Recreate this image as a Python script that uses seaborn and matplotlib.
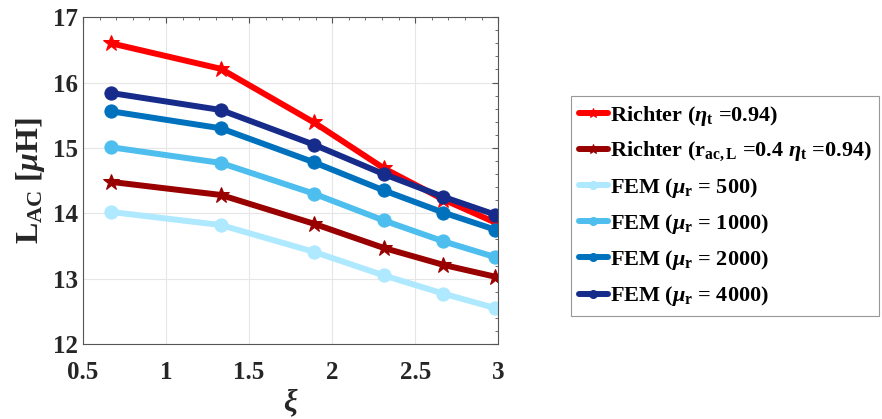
import matplotlib
matplotlib.use('Agg')
import matplotlib.pyplot as plt
import seaborn as sns
import pandas as pd
from matplotlib.ticker import AutoMinorLocator

# data
xi = [0.67, 1.33, 1.89, 2.31, 2.67, 2.98]
richter = [16.60, 16.21, 15.39, 14.69, 14.21, 13.86]
richter_rac = [14.48, 14.28, 13.84, 13.47, 13.21, 13.03]
fem_500 = [14.02, 13.82, 13.41, 13.05, 12.77, 12.55]
fem_1000 = [15.01, 14.77, 14.30, 13.89, 13.57, 13.33]
fem_2000 = [15.56, 15.30, 14.78, 14.35, 14.01, 13.75]
fem_4000 = [15.84, 15.58, 15.05, 14.60, 14.25, 13.98]

labels = [r'Richter ($\eta_{\mathrm{t}}$ =0.94)',
          r'Richter (r$_{\mathrm{ac,L}}$ =0.4 $\eta_{\mathrm{t}}$ =0.94)',
          r'FEM ($\mu_{\mathrm{r}}$ = 500)',
          r'FEM ($\mu_{\mathrm{r}}$ = 1000)',
          r'FEM ($\mu_{\mathrm{r}}$ = 2000)',
          r'FEM ($\mu_{\mathrm{r}}$ = 4000)']
series = [richter, richter_rac, fem_500, fem_1000, fem_2000, fem_4000]
colors = ['#FF0000', '#990000', '#AEE9FF', '#4DBEEE', '#0072BD', '#172B8A']
markers = ['*', '*', 'o', 'o', 'o', 'o']

sns.set_style('white')
plt.rcParams['font.family'] = ['Liberation Serif', 'DejaVu Serif']
plt.rcParams['font.weight'] = 'bold'
plt.rcParams['mathtext.fontset'] = 'custom'
plt.rcParams['mathtext.rm'] = 'Liberation Serif:bold'
plt.rcParams['mathtext.it'] = 'Liberation Serif:italic:bold'
plt.rcParams['mathtext.bf'] = 'Liberation Serif:bold'

fig = plt.figure(figsize=(8.82, 4.19), dpi=100)
ax = fig.add_axes([0.094, 0.179, 0.471, 0.780])

for vals, lab, col, mk in zip(series, labels, colors, markers):
    df = pd.DataFrame({'xi': xi, 'L': vals})
    sns.lineplot(data=df, x='xi', y='L', ax=ax, color=col, marker=mk,
                 markersize=12 if mk == '*' else 9.5, markeredgecolor=col,
                 linewidth=4.3, label=lab)

ax.set_xlim(0.5, 3)
ax.set_ylim(12, 17)
ax.set_xticks([0.5, 1, 1.5, 2, 2.5, 3])
ax.set_xticklabels(['0.5', '1', '1.5', '2', '2.5', '3'])
ax.set_yticks([12, 13, 14, 15, 16, 17])
ax.xaxis.set_minor_locator(AutoMinorLocator(5))
ax.yaxis.set_minor_locator(AutoMinorLocator(5))
ax.tick_params(which='both', direction='in', top=True, right=True, colors='#555555',
               labelcolor='#262626', labelsize=18)
ax.tick_params(axis='x', pad=12)
ax.tick_params(which='major', length=4)
ax.tick_params(which='minor', length=2)
ax.grid(True, which='major', color='#e6e6e6', linewidth=0.8)
for s in ax.spines.values():
    s.set_color('#555555')
    s.set_linewidth(0.8)
for t in ax.get_xticklabels() + ax.get_yticklabels():
    t.set_fontweight('bold')

ax.set_xlabel(r'$\xi$', fontsize=22, color='#262626', labelpad=2)
ax.set_ylabel(r'L$_{\mathrm{AC}}$ [$\mu$H]', fontsize=23, color='#262626',
              fontweight='bold', labelpad=4)

leg = ax.legend(loc='upper left', bbox_to_anchor=(571 / 882, 1 - 96 / 419),
                bbox_transform=fig.transFigure, frameon=True, fancybox=False,
                edgecolor='#7f7f7f', fontsize=16, handlelength=1.3, markerscale=0.6,
                handletextpad=0.1, labelspacing=0.55, borderpad=0.35,
                borderaxespad=0)
leg.get_frame().set_linewidth(0.8)
for t in leg.get_texts():
    t.set_fontweight('bold')
    t.set_color('black')

fig.savefig('out.png', dpi=100)
